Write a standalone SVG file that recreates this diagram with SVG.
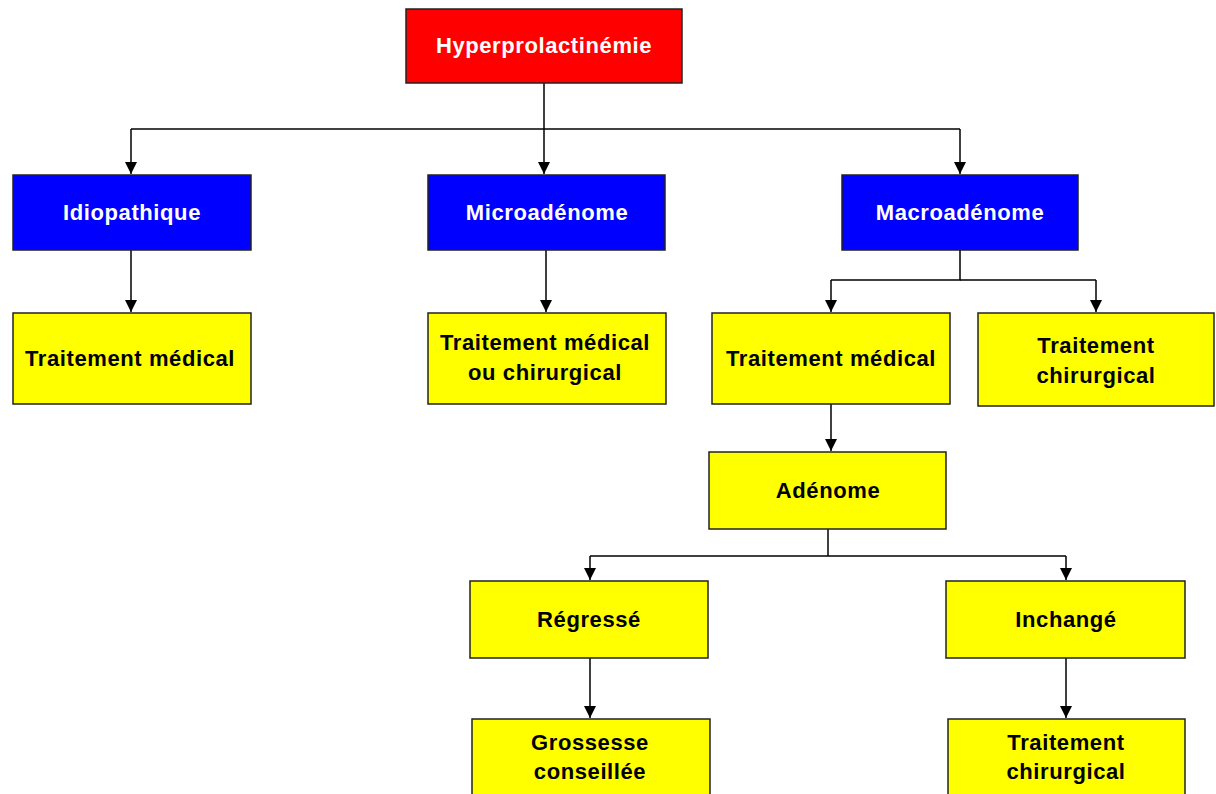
<svg xmlns="http://www.w3.org/2000/svg" width="1216" height="794" viewBox="0 0 1216 794">
<style>
.box{stroke:#222;stroke-width:1.5}
.red{fill:#ff0000}.blue{fill:#0000ff}.yel{fill:#ffff00}
.t{font-family:"Liberation Sans",Arial,sans-serif;font-weight:bold;font-size:22px;letter-spacing:0.6px;text-anchor:middle}
.w{fill:#fff}.k{fill:#000}
.c{fill:none;stroke:#000;stroke-width:1.5}
</style>
<defs>
<marker id="ah" viewBox="0 0 12 12" refX="12" refY="6" markerWidth="12" markerHeight="12" markerUnits="userSpaceOnUse" orient="auto">
<path d="M0,0 L12,6 L0,12 Z" fill="#000"/>
</marker>
</defs>
<rect width="1216" height="794" fill="#fff"/>
<g id="connectors">
<path class="c" d="M544,83 V129"/>
<path class="c" d="M131,129 H960"/>
<path class="c" d="M131,129 V174" marker-end="url(#ah)"/>
<path class="c" d="M544,129 V174" marker-end="url(#ah)"/>
<path class="c" d="M960,129 V174" marker-end="url(#ah)"/>
<path class="c" d="M131,250 V312" marker-end="url(#ah)"/>
<path class="c" d="M546,250 V312" marker-end="url(#ah)"/>
<path class="c" d="M960,250 V280 H831"/>
<path class="c" d="M960,280 H1096"/>
<path class="c" d="M831,280 V312" marker-end="url(#ah)"/>
<path class="c" d="M1096,280 V312" marker-end="url(#ah)"/>
<path class="c" d="M831,404 V451" marker-end="url(#ah)"/>
<path class="c" d="M828,529 V556"/>
<path class="c" d="M590,556 H1066"/>
<path class="c" d="M590,556 V580" marker-end="url(#ah)"/>
<path class="c" d="M1066,556 V580" marker-end="url(#ah)"/>
<path class="c" d="M590,658 V718" marker-end="url(#ah)"/>
<path class="c" d="M1066,658 V718" marker-end="url(#ah)"/>
</g>
<g id="n-hyper"><rect class="box red" x="406" y="9" width="276" height="74"/><text class="t w" x="544" y="53">Hyperprolactinémie</text></g>
<g id="n-idio"><rect class="box blue" x="13" y="175" width="238" height="75"/><text class="t w" x="132" y="220">Idiopathique</text></g>
<g id="n-micro"><rect class="box blue" x="428" y="175" width="237" height="75"/><text class="t w" x="547" y="220">Microadénome</text></g>
<g id="n-macro"><rect class="box blue" x="842" y="175" width="236" height="75"/><text class="t w" x="960" y="220">Macroadénome</text></g>
<g id="n-tm1"><rect class="box yel" x="13" y="313" width="238" height="91"/><text class="t k" x="130" y="366">Traitement médical</text></g>
<g id="n-tmc"><rect class="box yel" x="428" y="313" width="238" height="91"/><text class="t k" x="545" y="350">Traitement médical</text><text class="t k" x="545" y="380">ou chirurgical</text></g>
<g id="n-tm2"><rect class="box yel" x="712" y="313" width="238" height="91"/><text class="t k" x="831" y="366">Traitement médical</text></g>
<g id="n-tc1"><rect class="box yel" x="978" y="313" width="236" height="93"/><text class="t k" x="1096" y="353">Traitement</text><text class="t k" x="1096" y="383">chirurgical</text></g>
<g id="n-aden"><rect class="box yel" x="709" y="452" width="237" height="77"/><text class="t k" x="828" y="498">Adénome</text></g>
<g id="n-regr"><rect class="box yel" x="470" y="581" width="238" height="77"/><text class="t k" x="589" y="627">Régressé</text></g>
<g id="n-inch"><rect class="box yel" x="946" y="581" width="239" height="77"/><text class="t k" x="1066" y="627">Inchangé</text></g>
<g id="n-gros"><rect class="box yel" x="472" y="719" width="238" height="90"/><text class="t k" x="590" y="750">Grossesse</text><text class="t k" x="590" y="779">conseillée</text></g>
<g id="n-tc2"><rect class="box yel" x="948" y="719" width="237" height="90"/><text class="t k" x="1066" y="750">Traitement</text><text class="t k" x="1066" y="779">chirurgical</text></g>
</svg>
